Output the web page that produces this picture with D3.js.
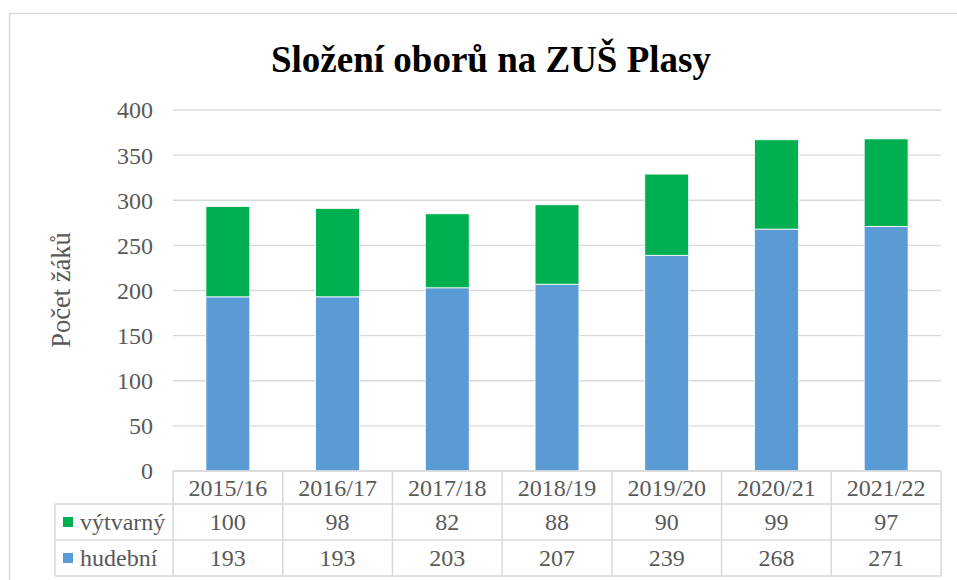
<!DOCTYPE html>
<html>
<head>
<meta charset="utf-8">
<script src="https://cdn.jsdelivr.net/npm/d3@7"></script>
<style>
  body { margin: 0; background: #fff; }
</style>
</head>
<body>
<div id="chart"></div>
<script>
// data
const years = ["2015/16", "2016/17", "2017/18", "2018/19", "2019/20", "2020/21", "2021/22"];
const hudebni = [193, 193, 203, 207, 239, 268, 271];
const vytvarny = [100, 98, 82, 88, 90, 99, 97];
const yTicks = [0, 50, 100, 150, 200, 250, 300, 350, 400];

const width = 957;
const height = 580;
const plot = { left: 173, right: 941, top: 110, bottom: 471 };
const FONT = "'Times New Roman', 'Liberation Serif', 'DejaVu Serif', serif";
const TXT = "#595959";

const svg = d3.select("#chart").append("svg")
  .attr("width", width)
  .attr("height", height)
  .attr("font-family", FONT);

// chart frame
svg.append("rect")
  .attr("x", 9.5).attr("y", 13.5)
  .attr("width", 960).attr("height", 600)
  .attr("fill", "none")
  .attr("stroke", "#d9d9d9")
  .attr("stroke-width", 1.5);

const x = d3.scaleBand()
  .domain(years)
  .range([plot.left, plot.right])
  .paddingInner(0.6)
  .paddingOuter(0.3);

const y = d3.scaleLinear()
  .domain([0, 400])
  .range([plot.bottom, plot.top]);

// gridlines
svg.append("g")
  .selectAll("line")
  .data(yTicks)
  .join("line")
  .attr("x1", plot.left).attr("x2", plot.right)
  .attr("y1", d => y(d)).attr("y2", d => y(d))
  .attr("stroke", "#d9d9d9")
  .attr("stroke-width", 1.3);

// y tick labels
svg.append("g")
  .selectAll("text")
  .data(yTicks)
  .join("text")
  .attr("x", 153)
  .attr("y", d => y(d))
  .attr("dy", "0.35em")
  .attr("text-anchor", "end")
  .attr("fill", TXT)
  .attr("font-size", 24)
  .text(d => d);

// stacked bars
const rows = years.map((yr, i) => ({ year: yr, hudebni: hudebni[i], vytvarny: vytvarny[i] }));
const stack = d3.stack().keys(["hudebni", "vytvarny"])(rows);
const colors = { hudebni: "#5b9bd5", vytvarny: "#00b050" };

svg.append("g")
  .selectAll("g")
  .data(stack)
  .join("g")
  .attr("fill", d => colors[d.key])
  .selectAll("rect")
  .data(d => d)
  .join("rect")
  .attr("x", d => x(d.data.year))
  .attr("width", x.bandwidth())
  .attr("y", d => y(d[1]))
  .attr("height", d => y(d[0]) - y(d[1]))
  .attr("stroke", "#fff")
  .attr("stroke-width", 0.8);

// title
svg.append("text")
  .attr("x", 491)
  .attr("y", 72)
  .attr("text-anchor", "middle")
  .attr("font-weight", "bold")
  .attr("font-size", 37)
  .attr("fill", "#000")
  .text("Složení oborů na ZUŠ Plasy");

// y axis label
svg.append("text")
  .attr("transform", "translate(70,290) rotate(-90)")
  .attr("text-anchor", "middle")
  .attr("fill", TXT)
  .attr("font-size", 26.5)
  .text("Počet žáků");

// data table
const colX = d3.scaleBand().domain(years).range([plot.left, plot.right]);
const rowY = [plot.bottom, 504, 540, 576];
const legendLeft = 55;
const grid = svg.append("g")
  .attr("stroke", "#d9d9d9")
  .attr("stroke-width", 1.5);

// horizontal lines
grid.append("line").attr("x1", plot.left).attr("x2", plot.right).attr("y1", rowY[0]).attr("y2", rowY[0]);
rowY.slice(1).forEach(ry => {
  grid.append("line").attr("x1", legendLeft).attr("x2", plot.right).attr("y1", ry).attr("y2", ry);
});
// vertical lines
grid.append("line").attr("x1", legendLeft).attr("x2", legendLeft).attr("y1", rowY[1]).attr("y2", rowY[3]);
years.forEach(yr => {
  grid.append("line")
    .attr("x1", colX(yr)).attr("x2", colX(yr))
    .attr("y1", rowY[0]).attr("y2", rowY[3]);
});
grid.append("line").attr("x1", plot.right).attr("x2", plot.right).attr("y1", rowY[0]).attr("y2", rowY[3]);

const cellText = (txt, cx, ry0, ry1) => svg.append("text")
  .attr("x", cx)
  .attr("y", (ry0 + ry1) / 2)
  .attr("dy", "0.35em")
  .attr("text-anchor", "middle")
  .attr("fill", TXT)
  .attr("font-size", 24)
  .text(txt);

years.forEach((yr, i) => {
  const cx = colX(yr) + colX.bandwidth() / 2;
  cellText(yr, cx, rowY[0], rowY[1]);
  cellText(vytvarny[i], cx, rowY[1], rowY[2]);
  cellText(hudebni[i], cx, rowY[2], rowY[3]);
});

// legend keys in table
const series = [
  { name: "výtvarný", color: colors.vytvarny, r0: rowY[1], r1: rowY[2] },
  { name: "hudební", color: colors.hudebni, r0: rowY[2], r1: rowY[3] }
];
series.forEach(s => {
  const cy = (s.r0 + s.r1) / 2;
  svg.append("rect")
    .attr("x", 63).attr("y", cy - 5)
    .attr("width", 10).attr("height", 10)
    .attr("fill", s.color);
  svg.append("text")
    .attr("x", 80).attr("y", cy)
    .attr("dy", "0.35em")
    .attr("fill", TXT)
    .attr("font-size", 24)
    .text(s.name);
});
</script>
</body>
</html>
